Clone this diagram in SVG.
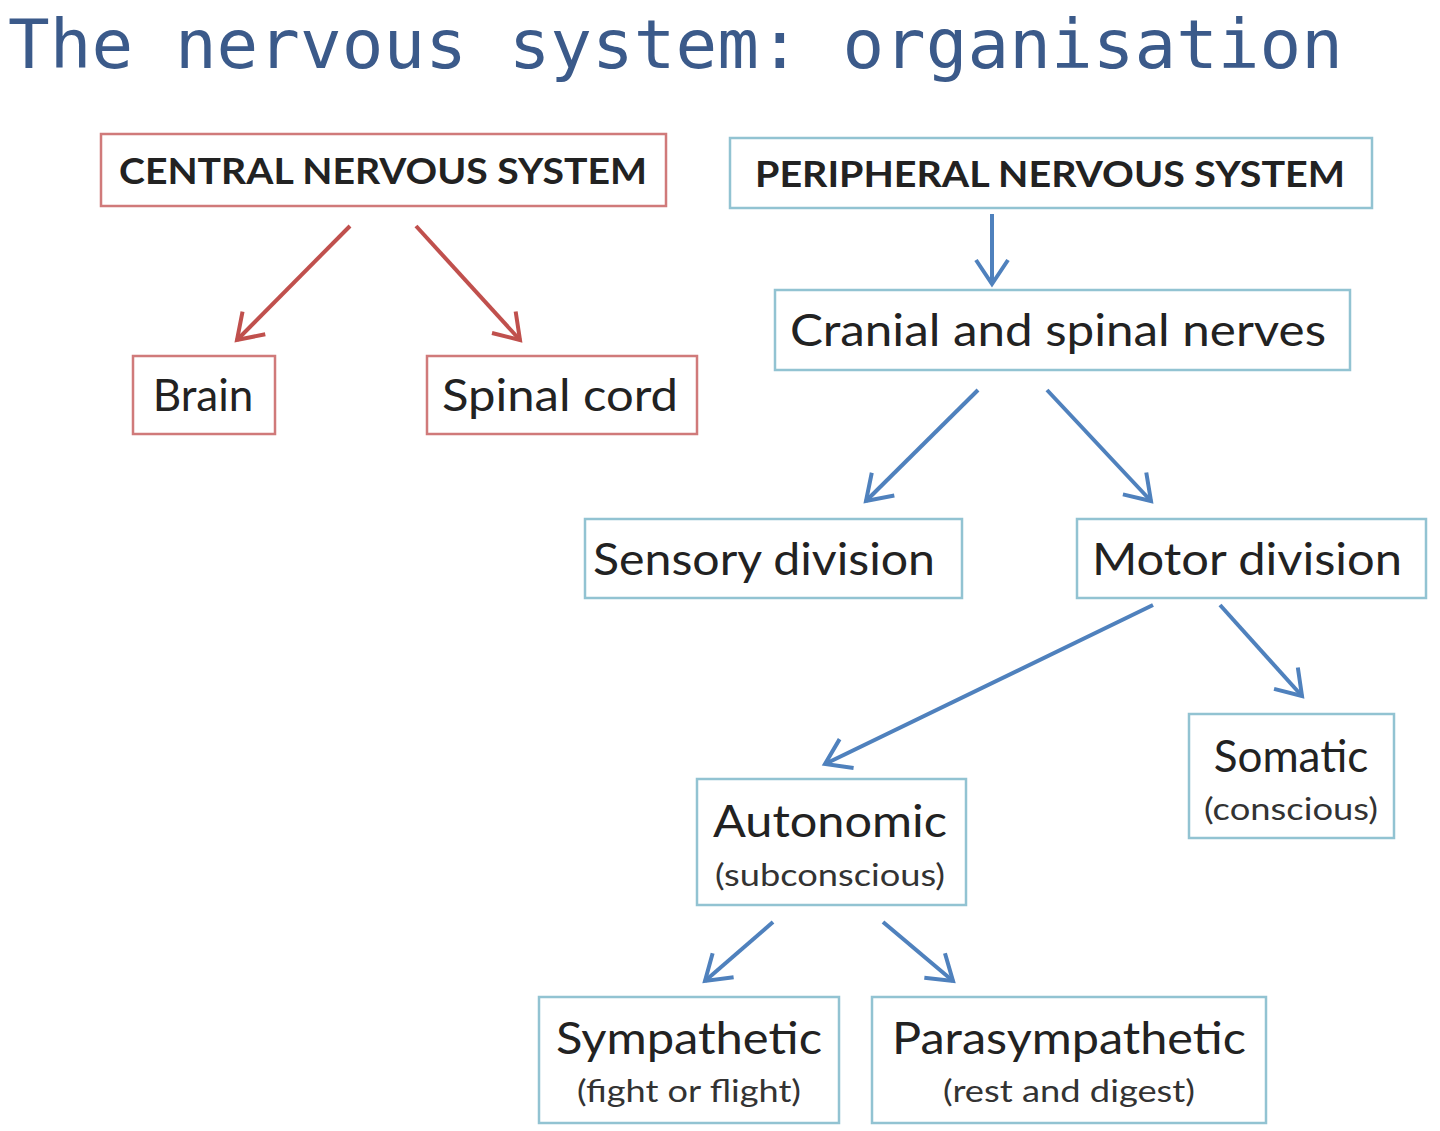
<svg xmlns="http://www.w3.org/2000/svg" width="1440" height="1131" viewBox="0 0 1440 1131">
<style>
.r{fill:#fff;stroke:#d07a7a;stroke-width:2.5}
.b{fill:#fff;stroke:#92c3d2;stroke-width:2.5}
.t{font-family:Lato,"Open Sans",sans-serif;fill:#222;text-anchor:middle}
.big{font-size:44px}
.sm{font-size:31px;fill:#333}
.hd{font-size:37px;font-weight:bold}
.rc{stroke:#c0504d;stroke-width:4;fill:none;marker-end:url(#ar)}
.bc{stroke:#4f81bd;stroke-width:4;fill:none;marker-end:url(#ab)}
</style>
<defs>
<marker id="ar" markerWidth="10" markerHeight="10" refX="7" refY="5" orient="auto" markerUnits="strokeWidth"><path d="M1,1 L7,5 L1,9" fill="none" stroke="#c0504d" stroke-width="1"/></marker>
<marker id="ab" markerWidth="10" markerHeight="10" refX="7" refY="5" orient="auto" markerUnits="strokeWidth"><path d="M1,1 L7,5 L1,9" fill="none" stroke="#4f81bd" stroke-width="1"/></marker>
</defs>
<rect width="1440" height="1131" fill="#fff"/>
<text x="8" y="68" font-family="DejaVu Sans Mono,monospace" font-size="68" fill="#3b5a8a" textLength="1335" lengthAdjust="spacingAndGlyphs">The nervous system: organisation</text>
<g id="connectors">
<line class="rc" x1="350" y1="226" x2="237" y2="340"/>
<line class="rc" x1="416" y1="226" x2="520" y2="340"/>
<line class="bc" x1="992" y1="214" x2="992" y2="284"/>
<line class="bc" x1="978" y1="390" x2="866" y2="501"/>
<line class="bc" x1="1047" y1="390" x2="1151" y2="501"/>
<line class="bc" x1="1153" y1="605" x2="825" y2="764"/>
<line class="bc" x1="1220" y1="605" x2="1302" y2="696"/>
<line class="bc" x1="773" y1="922" x2="705" y2="981"/>
<line class="bc" x1="883" y1="922" x2="953" y2="981"/>
</g>
<g id="cns"><rect class="r" x="101" y="134" width="565" height="72"/><text class="t hd" x="383" y="184" textLength="528" lengthAdjust="spacingAndGlyphs">CENTRAL NERVOUS SYSTEM</text></g>
<g id="brain"><rect class="r" x="133" y="356" width="142" height="78"/><text class="t big" x="203" y="411">Brain</text></g>
<g id="spinal"><rect class="r" x="427" y="356" width="270" height="78"/><text class="t big" x="560" y="411" textLength="236" lengthAdjust="spacingAndGlyphs">Spinal cord</text></g>
<g id="pns"><rect class="b" x="730" y="138" width="642" height="70"/><text class="t hd" x="1050" y="187" textLength="590" lengthAdjust="spacingAndGlyphs">PERIPHERAL NERVOUS SYSTEM</text></g>
<g id="cranial"><rect class="b" x="775" y="290" width="575" height="80"/><text class="t big" x="1058" y="346" textLength="536" lengthAdjust="spacingAndGlyphs">Cranial and spinal nerves</text></g>
<g id="sensory"><rect class="b" x="585" y="519" width="377" height="79"/><text class="t big" x="764" y="575" textLength="342" lengthAdjust="spacingAndGlyphs">Sensory division</text></g>
<g id="motor"><rect class="b" x="1077" y="519" width="349" height="79"/><text class="t big" x="1247" y="575" textLength="310" lengthAdjust="spacingAndGlyphs">Motor division</text></g>
<g id="somatic"><rect class="b" x="1189" y="714" width="205" height="124"/><text class="t big" x="1291" y="772">Somatic</text><text class="t sm" x="1291" y="820" textLength="174" lengthAdjust="spacingAndGlyphs">(conscious)</text></g>
<g id="autonomic"><rect class="b" x="697" y="779" width="269" height="126"/><text class="t big" x="830" y="837" textLength="234" lengthAdjust="spacingAndGlyphs">Autonomic</text><text class="t sm" x="830" y="886" textLength="230" lengthAdjust="spacingAndGlyphs">(subconscious)</text></g>
<g id="sympathetic"><rect class="b" x="539" y="997" width="300" height="126"/><text class="t big" x="689" y="1054" textLength="266" lengthAdjust="spacingAndGlyphs">Sympathetic</text><text class="t sm" x="689" y="1102" textLength="224" lengthAdjust="spacingAndGlyphs">(fight or flight)</text></g>
<g id="parasympathetic"><rect class="b" x="872" y="997" width="394" height="126"/><text class="t big" x="1069" y="1054" textLength="354" lengthAdjust="spacingAndGlyphs">Parasympathetic</text><text class="t sm" x="1069" y="1102" textLength="252" lengthAdjust="spacingAndGlyphs">(rest and digest)</text></g>
</svg>
